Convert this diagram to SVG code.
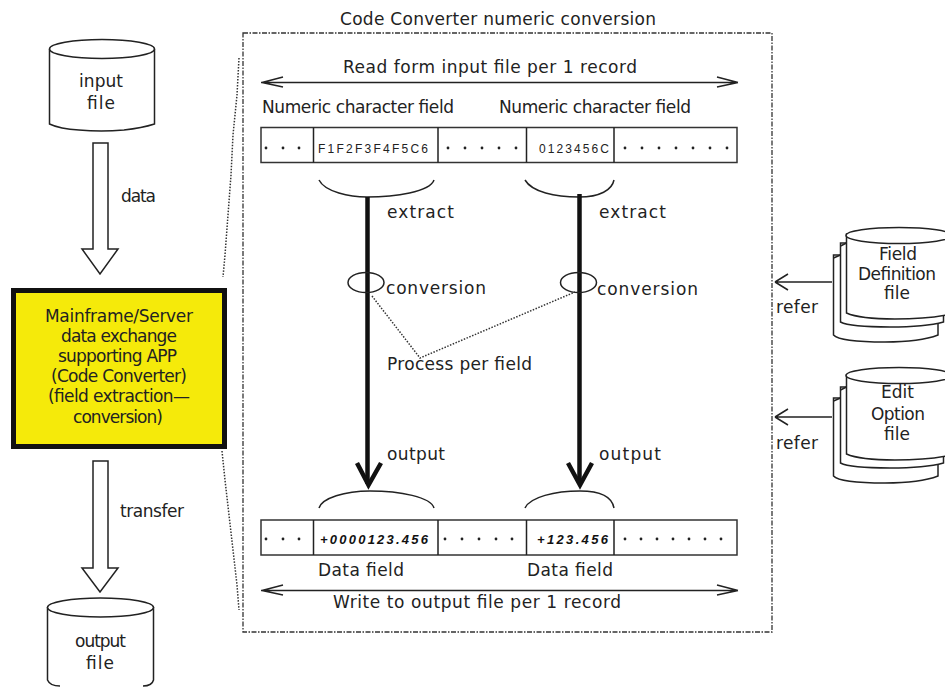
<svg xmlns="http://www.w3.org/2000/svg" width="945" height="687" viewBox="0 0 945 687">
<style>
text{font-family:"DejaVu Sans","Liberation Sans",sans-serif;font-size:17px;fill:#222}
.c{stroke:#222;stroke-width:1.5;fill:#fff}
.l{stroke:#222;stroke-width:1.5;fill:none}
.d{stroke:#333;stroke-width:1.5;fill:none;stroke-dasharray:1.5 1.5}
.t{stroke:#111;stroke-width:4.5;fill:none}
.h{stroke:#111;stroke-width:4.5;fill:none;stroke-linejoin:miter}
.r{stroke:#333;stroke-width:1.5;fill:#fff}
.s{font-size:12px;font-family:"Liberation Sans",sans-serif}
.b{font-size:13px;font-family:"Liberation Sans",sans-serif;font-weight:bold;font-style:italic;fill:#111}
.dot{fill:#222}
</style>

<g id="input-file">
<path class="c" d="M49.500 49V124Q60 129 79 130Q101 132 124 130Q142 128 154.500 124V49"/>
<ellipse class="c" cx="102" cy="49" rx="52.500" ry="9.500"/>
<text x="79" y="87" textLength="44" lengthAdjust="spacing">input</text>
<text x="87" y="109" textLength="28" lengthAdjust="spacing">file</text>
</g>

<g id="data-arrow">
<path class="c" d="M93 143H108V249H118L100 274L82 249H93Z"/>
<text x="121" y="202" textLength="35" lengthAdjust="spacing">data</text>
</g>

<g id="app-box">
<rect x="13.500" y="290.500" width="211" height="156" fill="#f5ea0a" stroke="#111" stroke-width="5"/>
<text x="45" y="322" textLength="148" lengthAdjust="spacing">Mainframe/Server</text>
<text x="61" y="342" textLength="116" lengthAdjust="spacing">data exchange</text>
<text x="58" y="362" textLength="119" lengthAdjust="spacing">supporting APP</text>
<text x="51" y="382" textLength="136" lengthAdjust="spacing">(Code Converter)</text>
<text x="48" y="402" textLength="142" lengthAdjust="spacing">(field extraction—</text>
<text x="73" y="423" textLength="90" lengthAdjust="spacing">conversion)</text>
</g>

<g id="transfer-arrow">
<path class="c" d="M93 461H108V568H118L100 592L82 568H93Z"/>
<text x="120" y="517" textLength="64" lengthAdjust="spacing">transfer</text>
</g>

<g id="output-file">
<path class="c" d="M47.500 607V680Q50 686 60 686M143 686Q152 686 153.500 680V607"/>
<ellipse class="c" cx="100.500" cy="607.500" rx="53" ry="9.500"/>
<text x="75" y="647" textLength="51" lengthAdjust="spacing">output</text>
<text x="86" y="669" textLength="28" lengthAdjust="spacing">file</text>
</g>

<g id="converter-frame">
<rect x="243" y="33" width="529" height="599" fill="none" stroke="#333" stroke-width="1.300" stroke-dasharray="5 1.500 1.500 1.500"/>
<text x="340" y="25" textLength="316" lengthAdjust="spacing">Code Converter numeric conversion</text>
<text x="343" y="73" textLength="294" lengthAdjust="spacing">Read form input file per 1 record</text>
<text x="262" y="113" textLength="192" lengthAdjust="spacing">Numeric character field</text>
<text x="499" y="113" textLength="192" lengthAdjust="spacing">Numeric character field</text>
<text x="387" y="218" textLength="67" lengthAdjust="spacing">extract</text>
<text x="599" y="218" textLength="67" lengthAdjust="spacing">extract</text>
<text x="386" y="294" textLength="100" lengthAdjust="spacing">conversion</text>
<text x="597" y="295" textLength="101" lengthAdjust="spacing">conversion</text>
<text x="387" y="370" textLength="145" lengthAdjust="spacing">Process per field</text>
<text x="387" y="460" textLength="58" lengthAdjust="spacing">output</text>
<text x="599" y="460" textLength="62" lengthAdjust="spacing">output</text>
<text x="318" y="576" textLength="86" lengthAdjust="spacing">Data field</text>
<text x="527" y="576" textLength="86" lengthAdjust="spacing">Data field</text>
<text x="333" y="608" textLength="288" lengthAdjust="spacing">Write to output file per 1 record</text>
</g>

<g id="record-input">
<rect class="r" x="261" y="127.500" width="476" height="35"/>
<path class="l" d="M313.500 127.500V162.500M438 127.500V162.500M526.500 127.500V162.500M614 127.500V162.500"/>
<text class="s" x="318" y="153" textLength="110" lengthAdjust="spacing">F1F2F3F4F5C6</text>
<text class="s" x="539" y="153" textLength="70" lengthAdjust="spacing">0123456C</text>
<g class="dot"><circle cx="266" cy="148" r="1.400"/><circle cx="283" cy="148" r="1.400"/><circle cx="299" cy="148" r="1.400"/><circle cx="448" cy="148" r="1.400"/><circle cx="465" cy="148" r="1.400"/><circle cx="482" cy="148" r="1.400"/><circle cx="499" cy="148" r="1.400"/><circle cx="516" cy="148" r="1.400"/><circle cx="625" cy="148" r="1.400"/><circle cx="642" cy="148" r="1.400"/><circle cx="659" cy="148" r="1.400"/><circle cx="676" cy="148" r="1.400"/><circle cx="693" cy="148" r="1.400"/><circle cx="710" cy="148" r="1.400"/><circle cx="727" cy="148" r="1.400"/></g>
</g>

<g id="record-output">
<rect class="r" x="261" y="520" width="476" height="35"/>
<path class="l" d="M313.500 520V555M438 520V555M526.500 520V555M614 520V555"/>
<text class="b" x="320" y="544" textLength="108" lengthAdjust="spacing">+0000123.456</text>
<text class="b" x="537" y="544" textLength="71" lengthAdjust="spacing">+123.456</text>
<g class="dot"><circle cx="266" cy="539" r="1.400"/><circle cx="283" cy="539" r="1.400"/><circle cx="299" cy="539" r="1.400"/><circle cx="445" cy="539" r="1.400"/><circle cx="462" cy="539" r="1.400"/><circle cx="479" cy="539" r="1.400"/><circle cx="496" cy="539" r="1.400"/><circle cx="512" cy="539" r="1.400"/><circle cx="625" cy="539" r="1.400"/><circle cx="641" cy="539" r="1.400"/><circle cx="657" cy="539" r="1.400"/><circle cx="673" cy="539" r="1.400"/><circle cx="689" cy="539" r="1.400"/><circle cx="705" cy="539" r="1.400"/><circle cx="721" cy="539" r="1.400"/></g>
</g>

<g id="field-definition-file">
<path class="c" d="M833.500 255V335Q840 342 885 342Q920 342 938 335V300H845V255Z"/>
<path class="c" d="M840.500 243V322Q850 327 890 327Q925 327 943.500 322V300H855V243Z"/>
<path class="c" d="M846.500 234V313Q860 319 895 319Q925 319 946 315V234Z"/>
<path class="l" d="M833.500 258L840.500 255M840.500 246L846.500 243"/>
<ellipse class="c" cx="899" cy="235.500" rx="53" ry="8"/>
<text x="879" y="260" textLength="38" lengthAdjust="spacing">Field</text>
<text x="858" y="280" textLength="78" lengthAdjust="spacing">Definition</text>
<text x="884" y="299" textLength="26" lengthAdjust="spacing">file</text>
</g>

<g id="edit-option-file">
<path class="c" d="M833.500 398V476Q840 483 885 483Q920 483 938 476V440H845V398Z"/>
<path class="c" d="M840.500 387V463Q850 468 890 468Q925 468 943.500 463V440H855V387Z"/>
<path class="c" d="M846.500 375V454Q860 460 895 460Q925 460 946 456V375Z"/>
<path class="l" d="M833.500 401L840.500 398M840.500 390L846.500 387"/>
<ellipse class="c" cx="899" cy="375.500" rx="53" ry="8"/>
<text x="881" y="398" textLength="33" lengthAdjust="spacing">Edit</text>
<text x="871" y="420" textLength="54" lengthAdjust="spacing">Option</text>
<text x="884" y="440" textLength="26" lengthAdjust="spacing">file</text>
</g>

<g id="connectors">
<path class="d" d="M239 58L237 95L233 135L231 175L228 215L225 255L223 277"/>
<path class="d" d="M222 451L225 480L229 515L233 550L237 585L239 610"/>
<path class="l" d="M261 82.500H738M262 82.500L283 77M262 82.500L283 87M738 82.500L717 77M738 82.500L717 87"/>
<path class="l" d="M261 590.500H738M262 590.500L283 585M262 590.500L283 595M738 590.500L717 585M738 590.500L717 595"/>
<path class="l" d="M319 180C325 192 350 197 367 197C395 197 430 192 434 180"/>
<path class="l" d="M525 180C532 192 555 197 579 197C600 197 612 190 614 180"/>
<path class="l" d="M319 508C322 498 345 491 370 491C400 491 431 497 434 508"/>
<path class="l" d="M525 508C530 497 555 491 580 491C600 491 612 497 614 508"/>
<path class="t" d="M367.500 197V484"/>
<path class="t" d="M579.500 194V484"/>
<path class="h" d="M357 463L368.500 485L381 463"/>
<path class="h" d="M568 463L580 485L592 463"/>
<ellipse class="l" cx="366" cy="282.500" rx="18" ry="10"/>
<ellipse class="l" cx="578.500" cy="282.500" rx="18" ry="10"/>
<path class="d" d="M372 296L420 358L575 292"/>
<path class="l" d="M832 282H775M775 282L788 274M775 282L788 290"/>
<path class="l" d="M832 417H775M775 417L788 409M775 417L788 425"/>
<text x="776" y="313" textLength="42" lengthAdjust="spacing">refer</text>
<text x="776" y="449" textLength="42" lengthAdjust="spacing">refer</text>
</g>
</svg>
